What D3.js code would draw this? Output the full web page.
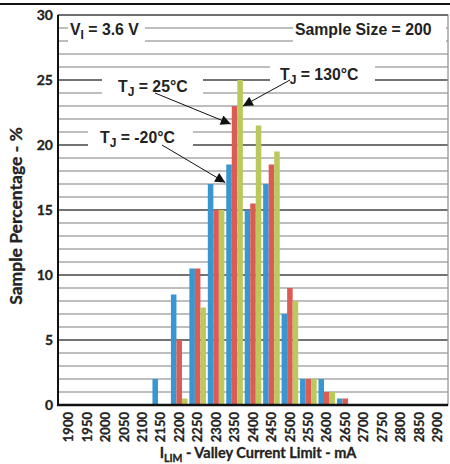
<!DOCTYPE html>
<html>
<head>
<meta charset="utf-8">
<script src="https://cdn.jsdelivr.net/npm/d3@7"></script>
<style>
  body { margin: 0; background: #fff; }
  .tick-label { font-family: Lato, "Open Sans", sans-serif; font-weight: bold; fill: #222; stroke: #222; stroke-width: 0.3px; }
  .note { font-family: "Liberation Sans", Arial, sans-serif; font-weight: bold; font-size: 15.8px; fill: #222; }
</style>
</head>
<body>
<div id="chart"></div>
<script>
// valley current limit bins (mA)
const categories = d3.range(1900, 2901, 50).map(String);
const seriesNames = ['TJ = -20°C', 'TJ = 25°C', 'TJ = 130°C'];

// sample percentage per bin
const tjMinus20 = [0, 0, 0, 0, 0, 2, 8.5, 10.5, 17, 18.5, 15, 17, 7, 2, 2, 0.5, 0, 0, 0, 0, 0];
const tj25 = [0, 0, 0, 0, 0, 0, 5, 10.5, 15, 23, 15.5, 18.5, 9, 2, 1, 0.5, 0, 0, 0, 0, 0];
const tj130 = [0, 0, 0, 0, 0, 0, 0.5, 7.5, 15, 25, 21.5, 19.5, 8, 2, 1, 0, 0, 0, 0, 0, 0];

const yTicks = [0, 5, 10, 15, 20, 25, 30];

function drawChart() {
  const width = 450;
  const height = 464;
  const margin = { top: 15, right: 2, bottom: 59, left: 58 };
  const colors = ['#3896d0', '#db5b55', '#bbc85b'];
  const series = [tjMinus20, tj25, tj130];

  const svg = d3.select('#chart')
    .append('svg')
    .attr('width', width)
    .attr('height', height);

  // frame line across the top
  svg.append('line')
    .attr('x1', 0).attr('x2', width)
    .attr('y1', 4).attr('y2', 4)
    .attr('stroke', '#111')
    .attr('stroke-width', 2);

  const x = d3.scaleBand()
    .domain(categories)
    .range([margin.left, width - margin.right])
    .paddingInner(0.1)
    .paddingOuter(0.12);

  const xInner = d3.scaleBand()
    .domain(d3.range(series.length))
    .range([0, x.bandwidth()]);

  const y = d3.scaleLinear()
    .domain([0, 30])
    .range([height - margin.bottom, margin.top]);

  // grid, one line per percent
  svg.append('g')
    .selectAll('line')
    .data(d3.range(1, 30))
    .enter().append('line')
    .attr('x1', margin.left)
    .attr('x2', width - margin.right)
    .attr('y1', d => y(d))
    .attr('y2', d => y(d))
    .attr('stroke', d => d % 5 === 0 ? '#444' : '#a8a8a8')
    .attr('stroke-width', 1.3);

  // plot border
  svg.append('rect')
    .attr('x', margin.left)
    .attr('y', margin.top)
    .attr('width', width - margin.right - margin.left)
    .attr('height', y(0) - margin.top)
    .attr('fill', 'none')
    .attr('stroke', '#999')
    .attr('stroke-width', 1.3);
  svg.append('line')
    .attr('x1', margin.left).attr('x2', width - margin.right)
    .attr('y1', margin.top).attr('y2', margin.top)
    .attr('stroke', '#555').attr('stroke-width', 1.3);

  // annotation boxes (white, hide the grid)
  const notes = [
    { x: 70, y: 35, main: 'V', sub: 'I', rest: ' = 3.6 V', box: [68, 18, 77, 28] },
    { x: 295, y: 35, main: 'Sample Size = 200', sub: '', rest: '', box: [293, 18, 153, 28] },
    { x: 118, y: 92, main: 'T', sub: 'J', rest: ' = 25°C', box: [102, 73, 101, 27] },
    { x: 100, y: 143, main: 'T', sub: 'J', rest: ' = -20°C', box: [88, 124, 105, 27] },
    { x: 280, y: 80, main: 'T', sub: 'J', rest: ' = 130°C', box: [270, 61, 105, 27] },
  ];

  svg.append('g')
    .selectAll('rect')
    .data(notes)
    .enter().append('rect')
    .attr('x', d => d.box[0])
    .attr('y', d => d.box[1])
    .attr('width', d => d.box[2])
    .attr('height', d => d.box[3])
    .attr('fill', '#fff');

  // bars
  const groups = svg.append('g')
    .selectAll('g')
    .data(series)
    .enter().append('g')
    .attr('fill', (d, i) => colors[i]);

  groups.selectAll('rect')
    .data((d, i) => d.map((v, j) => ({ v: v, cat: categories[j], s: i })))
    .enter().append('rect')
    .filter(d => d.v > 0)
    .attr('x', d => x(d.cat) + xInner(d.s))
    .attr('y', d => y(d.v))
    .attr('width', xInner.bandwidth())
    .attr('height', d => y(0) - y(d.v));

  // axes lines
  svg.append('line')
    .attr('x1', margin.left).attr('x2', margin.left)
    .attr('y1', margin.top).attr('y2', y(0))
    .attr('stroke', '#111').attr('stroke-width', 2);
  svg.append('line')
    .attr('x1', margin.left - 1).attr('x2', width - margin.right)
    .attr('y1', y(0)).attr('y2', y(0))
    .attr('stroke', '#111').attr('stroke-width', 2.5);

  // y tick labels
  svg.append('g')
    .selectAll('text')
    .data(yTicks)
    .enter().append('text')
    .attr('class', 'tick-label')
    .attr('x', 53)
    .attr('y', d => y(d))
    .attr('dy', '0.36em')
    .attr('text-anchor', 'end')
    .style('font-size', '14px')
    .text(d => d);

  // x tick labels, rotated
  svg.append('g')
    .selectAll('text')
    .data(categories)
    .enter().append('text')
    .attr('class', 'tick-label')
    .attr('text-anchor', 'end')
    .attr('dy', '0.36em')
    .attr('transform', d => 'translate(' + (x(d) + x.bandwidth() / 2) + ',' + 412 + ') rotate(-90)')
    .style('font-size', '13px')
    .text(d => d);

  // axis titles
  const xt = svg.append('text')
    .attr('class', 'tick-label')
    .attr('x', 258)
    .attr('y', 458)
    .attr('text-anchor', 'middle')
    .style('font-size', '14.5px');
  xt.append('tspan').text('I');
  xt.append('tspan').attr('dy', 4).style('font-size', '10.5px').text('LIM');
  xt.append('tspan').attr('dy', -4).text(' - Valley Current Limit - mA');

  svg.append('text')
    .attr('class', 'tick-label')
    .attr('transform', 'translate(22,' + 216 + ') rotate(-90)')
    .attr('text-anchor', 'middle')
    .style('font-size', '17.5px')
    .text('Sample Percentage - %');

  // annotation texts
  const label = svg.append('g')
    .selectAll('text')
    .data(notes)
    .enter().append('text')
    .attr('class', 'note')
    .attr('x', d => d.x)
    .attr('y', d => d.y);
  label.append('tspan').text(d => d.main);
  label.append('tspan')
    .attr('dy', d => d.sub ? 4 : 0)
    .style('font-size', '12px')
    .text(d => d.sub);
  label.append('tspan')
    .attr('dy', d => d.sub ? -4 : 0)
    .text(d => d.rest);

  // arrows pointing at the 2350 bars
  svg.append('defs').append('marker')
    .attr('id', 'head')
    .attr('viewBox', '0 0 10 10')
    .attr('refX', 10).attr('refY', 5)
    .attr('markerWidth', 11).attr('markerHeight', 10)
    .attr('markerUnits', 'userSpaceOnUse')
    .attr('orient', 'auto')
    .append('path')
    .attr('d', 'M0,0L10,5L0,10Z')
    .attr('fill', '#111');

  const peak = '2350';
  const arrows = [
    { from: [155, 93], s: 1 },
    { from: [162, 145], s: 0 },
    { from: [290, 80], s: 2 },
  ];
  svg.append('g')
    .selectAll('line')
    .data(arrows)
    .enter().append('line')
    .attr('x1', d => d.from[0])
    .attr('y1', d => d.from[1])
    .attr('x2', d => d.s === 2 ? x(peak) + xInner(2) + xInner.bandwidth() : x(peak) + xInner(d.s) - 1)
    .attr('y2', d => y(series[d.s][categories.indexOf(peak)]) + (d.s === 2 ? 26 : 18))
    .attr('stroke', '#111')
    .attr('stroke-width', 1)
    .attr('marker-end', 'url(#head)');
}

drawChart();
</script>
</body>
</html>
